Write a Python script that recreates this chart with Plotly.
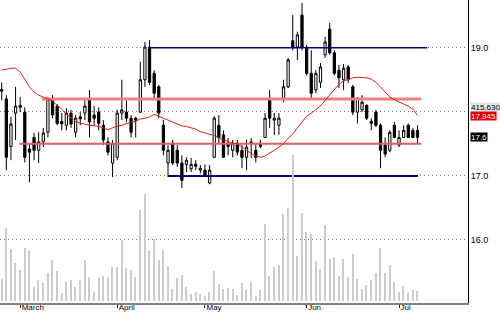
import plotly.graph_objects as go

# ---- data ----
month_labels = ["March", "April", "May", "Jun", "Jul"]
month_index = [4, 25, 44, 66, 86]

opens = [18.32, 18.20, 17.46, 17.98, 18.07, 17.995, 17.42, 17.60, 17.40, 17.53,
         17.68, 18.20, 18.09, 17.85, 17.79, 17.98, 17.68, 17.92, 17.98, 18.20,
         17.95, 17.995, 17.79, 17.53, 17.20, 17.29, 17.98, 17.995, 17.90, 17.90,
         17.995, 18.50, 19.01, 18.60, 18.39, 17.79, 17.20, 17.51, 17.40, 17.20,
         17.18, 17.11, 17.18, 17.09, 17.09, 16.89, 17.29, 17.79, 17.64, 17.51,
         17.40, 17.51, 17.40, 17.29, 17.50, 17.40, 17.51, 17.60, 18.21, 17.87,
         17.79, 18.21, 18.39, 19.11, 19.01, 19.51, 19.01, 18.60, 18.34, 18.46,
         18.89, 19.29, 18.92, 18.65, 18.50, 18.70, 18.39, 17.995, 18.03, 18.10,
         17.85, 17.995, 17.79, 17.48, 17.40, 17.79, 17.48, 17.60, 17.79, 17.71,
         17.71]
highs = [18.46, 18.26, 17.92, 18.39, 18.23, 18.07, 17.51, 17.67, 17.68, 17.75,
         18.23, 18.26, 18.12, 17.98, 18.06, 18.03, 17.95, 17.995, 18.20, 18.34,
         18.09, 18.07, 17.87, 17.60, 17.56, 18.03, 18.50, 18.18, 17.95, 17.92,
         18.78, 19.09, 19.12, 18.65, 18.42, 17.87, 17.48, 17.56, 17.48, 17.32,
         17.29, 17.28, 17.245, 17.17, 17.18, 17.17, 17.93, 17.95, 17.71, 17.59,
         17.56, 17.56, 17.48, 17.56, 17.59, 17.51, 17.56, 17.98, 18.34, 17.98,
         17.98, 18.50, 18.84, 19.51, 19.25, 19.70, 19.04, 18.96, 18.65, 18.76,
         19.17, 19.39, 18.96, 18.73, 18.745, 18.73, 18.42, 18.23, 18.26, 18.12,
         17.90, 18.03, 17.82, 17.60, 17.71, 17.84, 17.71, 17.79, 17.82, 17.75,
         17.79]
lows = [18.18, 17.09, 17.245, 17.56, 17.995, 17.21, 16.90, 17.245, 17.20, 17.45,
        17.60, 17.90, 17.79, 17.71, 17.71, 17.75, 17.60, 17.79, 17.87, 17.60,
        17.79, 17.71, 17.48, 17.32, 16.98, 17.245, 17.87, 17.84, 17.60, 17.60,
        17.98, 18.39, 18.42, 18.18, 17.90, 17.32, 16.98, 17.17, 17.14, 16.81,
        17.06, 17.06, 17.09, 17.04, 17.00, 16.87, 17.28, 17.51, 17.28, 17.32,
        17.29, 17.32, 17.12, 17.09, 17.28, 17.21, 17.43, 17.59, 17.75, 17.64,
        17.64, 18.15, 18.37, 18.96, 18.81, 18.96, 18.57, 18.21, 18.29, 18.37,
        18.84, 18.89, 18.57, 18.37, 18.34, 18.45, 17.95, 17.82, 17.995, 17.87,
        17.71, 17.76, 17.12, 17.29, 17.37, 17.59, 17.45, 17.59, 17.59, 17.59,
        17.51]
closes = [18.35, 17.29, 17.81, 18.09, 18.10, 17.29, 17.37, 17.40, 17.53, 17.67,
          18.20, 17.95, 17.82, 17.81, 17.98, 17.81, 17.90, 17.89, 18.09, 17.84,
          17.90, 17.82, 17.56, 17.37, 17.51, 17.98, 18.03, 17.90, 17.68, 17.87,
          18.50, 19.01, 18.46, 18.29, 17.98, 17.40, 17.40, 17.20, 17.20, 16.93,
          17.245, 17.18, 17.15, 17.12, 17.01, 17.09, 17.90, 17.60, 17.29, 17.46,
          17.51, 17.37, 17.29, 17.45, 17.53, 17.29, 17.46, 17.90, 17.90, 17.90,
          17.90, 18.39, 18.81, 19.01, 19.20, 19.01, 18.60, 18.29, 18.60, 18.70,
          19.09, 18.92, 18.60, 18.53, 18.68, 18.50, 17.995, 18.21, 18.15, 17.90,
          17.82, 17.79, 17.40, 17.34, 17.68, 17.60, 17.60, 17.71, 17.60, 17.60,
          17.60]
volume_k = [201, 660, 468, 339, 276, 474, 447, 126, 186, 159,
            249, 366, 267, 72, 174, 186, 126, 186, 366, 213,
            78, 204, 225, 213, 303, 303, 552, 297, 276, 213,
            816, 963, 447, 561, 366, 459, 315, 105, 210, 231,
            126, 66, 84, 66, 45, 78, 267, 156, 105, 120,
            105, 51, 162, 96, 174, 48, 96, 690, 222, 303,
            321, 786, 834, 1314, 405, 792, 621, 600, 360, 291,
            684, 375, 396, 222, 375, 213, 420, 201, 105, 147,
            186, 252, 480, 252, 327, 174, 78, 138, 72, 96,
            90]
moving_avg = [18.65, 18.67, 18.68, 18.68, 18.62, 18.51, 18.39, 18.31, 18.26, 18.23,
              18.20, 18.17, 18.10, 18.04, 17.96, 17.90, 17.85, 17.82, 17.81, 17.80,
              17.79, 17.77, 17.75, 17.72, 17.75, 17.78, 17.79, 17.82, 17.84, 17.85,
              17.89, 17.90, 17.92, 17.96, 17.93, 17.90, 17.87, 17.85, 17.82, 17.78,
              17.77, 17.75, 17.73, 17.69, 17.67, 17.65, 17.63, 17.59, 17.56, 17.53,
              17.51, 17.50, 17.45, 17.39, 17.35, 17.31, 17.29, 17.31, 17.35, 17.40,
              17.45, 17.50, 17.59, 17.65, 17.75, 17.84, 17.93, 17.98, 18.03, 18.09,
              18.18, 18.26, 18.35, 18.43, 18.48, 18.51, 18.53, 18.54, 18.54, 18.53,
              18.51, 18.46, 18.39, 18.31, 18.23, 18.19, 18.15, 18.12, 18.09, 18.04,
              17.945]

# horizontal level lines: price, start bar, end bar
level_price = [19.0, 17.0, 18.2, 17.5]
level_start = [31.7, 36.0, 8.7, 3.8]
level_end = [92.1, 90.1, 90.8, 90.8]
level_color = ["#00007f", "#00007f", "#f08080", "#e06060"]
level_width = [1.5, 2, 3, 2]

last_close_label = "17.6"
ma_label = "17.945"
vol_label = "415,630"
vol_label_level = 18.08

price_ticks = [16, 17, 18, 19]
price_tick_text = ["16.0", "17.0", "", "19.0"]

n = len(closes)
idx = list(range(n))

fig = go.Figure()

fig.add_trace(go.Bar(x=idx, y=volume_k, yaxis="y2", width=0.3,
                     marker=dict(color="#cccccc", line=dict(width=0)),
                     hoverinfo="skip", showlegend=False))

for p, s, e, c, w in zip(level_price, level_start, level_end, level_color, level_width):
    fig.add_trace(go.Scatter(x=[s, e], y=[p, p], mode="lines",
                             line=dict(color=c, width=w), showlegend=False,
                             hoverinfo="skip"))

fig.add_trace(go.Scatter(x=idx, y=moving_avg, mode="lines",
                         line=dict(color="#d42020", width=1), showlegend=False))

fig.add_trace(go.Candlestick(
    x=idx, open=opens, high=highs, low=lows, close=closes,
    increasing=dict(line=dict(color="#000000", width=1), fillcolor="#ffffff"),
    decreasing=dict(line=dict(color="#000000", width=1), fillcolor="#000000"),
    whiskerwidth=0, showlegend=False))

font_family = "Liberation Sans, Arial, sans-serif"

fig.update_layout(
    width=500, height=312,
    margin=dict(l=0, r=32, t=0, b=9, autoexpand=False),
    paper_bgcolor="white", plot_bgcolor="white",
    showlegend=False,
    font=dict(family=font_family, size=9, color="#000000"),
    xaxis=dict(
        range=[-0.37, 100.93], rangeslider=dict(visible=False),
        tickmode="array", tickvals=month_index, ticktext=month_labels,
        ticks="outside", ticklen=3, tickcolor="#000000", tickwidth=1,
        ticklabelposition="outside right", automargin=False,
        ticklabelstandoff=-5,
        showgrid=False, zeroline=False,
        showline=True, linecolor="#808080", linewidth=2,
        tickfont=dict(size=8, family=font_family),
    ),
    yaxis=dict(
        range=[15.016, 19.745], side="right", automargin=False,
        tickmode="array", tickvals=price_ticks, ticktext=price_tick_text,
        ticks="", showgrid=True, gridcolor="#777777", griddash="1px,3px",
        gridwidth=1, zeroline=False,
        showline=True, linecolor="#000000", linewidth=1,
        tickfont=dict(size=9, family=font_family),
    ),
    yaxis2=dict(range=[-18, 2709], overlaying="y", visible=False,
                showgrid=False, zeroline=False),
    bargap=0,
)

fig.add_annotation(x=1.0, xref="paper", xanchor="left", xshift=2,
                   y=vol_label_level, yref="y", text=vol_label, showarrow=False,
                   bgcolor="#e4e4e4", height=8,
                   font=dict(size=8, color="#000000", family=font_family), borderpad=0)
fig.add_annotation(x=1.0, xref="paper", xanchor="left", xshift=2,
                   y=17.935, yref="y", text=ma_label, showarrow=False,
                   bgcolor="#e00000", height=8,
                   font=dict(size=8, color="#ffffff", family=font_family), borderpad=0)
fig.add_annotation(x=1.0, xref="paper", xanchor="left", xshift=2,
                   y=17.6, yref="y", text=last_close_label, showarrow=False,
                   bgcolor="#000000", height=8,
                   font=dict(size=8, color="#ffffff", family=font_family), borderpad=0)

fig.write_html("out.html")
